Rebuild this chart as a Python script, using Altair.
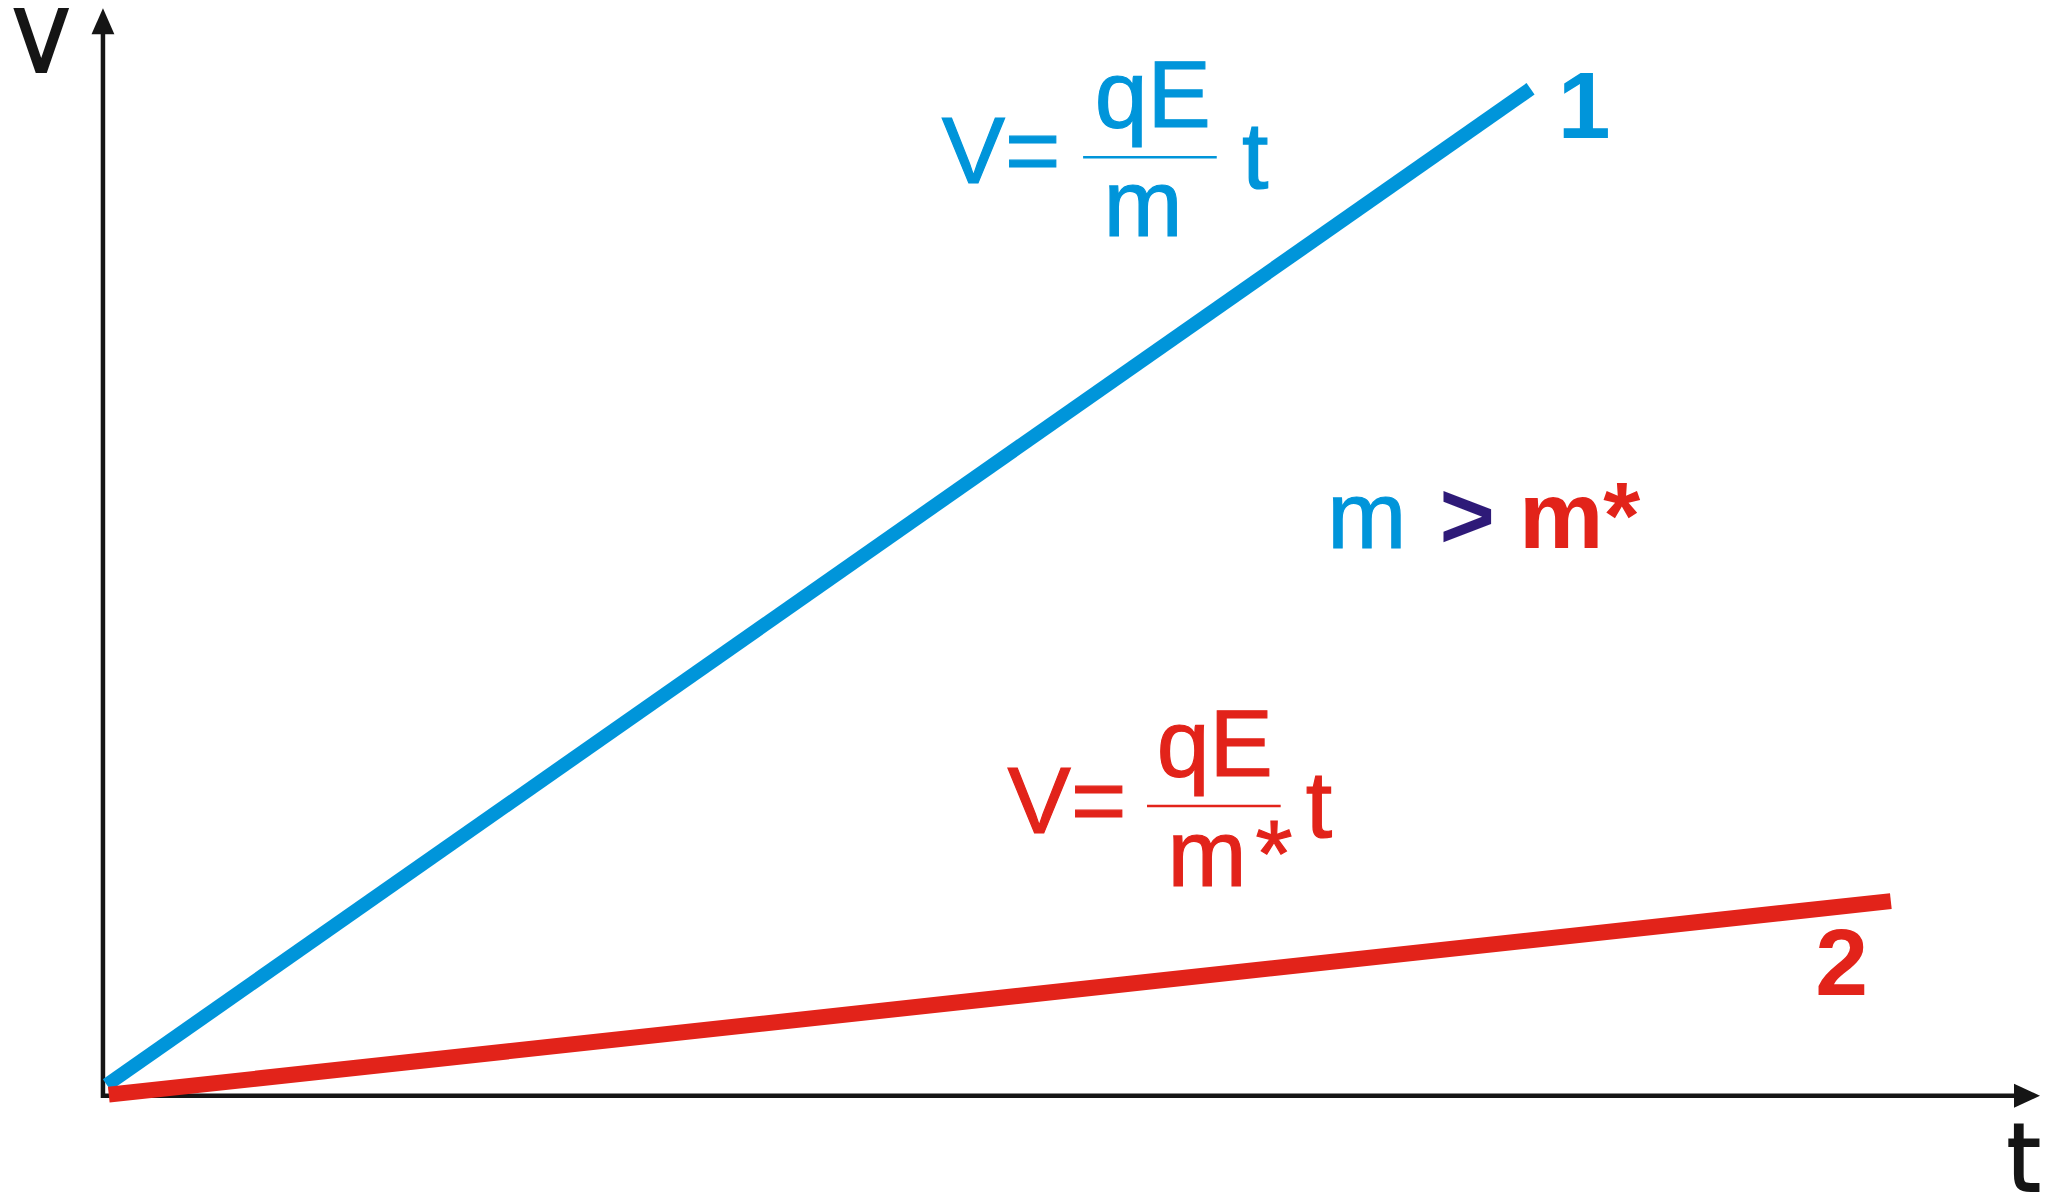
import altair as alt
import pandas as pd

# ---------------- data ----------------
# line 1 (blue, mass m) and line 2 (red, mass m*): V against t
line1_t = [0.2, 73.7]
line1_v = [1.0, 92.6]
line2_t = [0.3, 92.3]
line2_v = [0.1, 17.9]

# axis extents (arrow tips at 100)
xaxis_t = [0.0, 98.7]
xaxis_v = [0.0, 0.0]
yaxis_t = [0.0, 0.0]
yaxis_v = [-0.2, 97.8]

# fraction bars of the two formulas
frac_t1 = [50.6, 53.9]
frac_t2 = [57.5, 60.8]
frac_v = [86.3, 26.65]
frac_color = ["#0095DA", "#E2231A"]

# regular left-aligned texts
reg_text = ["V=", "t", "V=", "*", "t", "m"]
reg_t = [43.3, 58.8, 46.7, 59.5, 62.1, 63.2]
reg_v = [83.9, 83.5, 24.2, 19.3, 23.8, 50.4]
reg_color = ["#0095DA", "#0095DA", "#E2231A", "#E2231A", "#E2231A", "#0095DA"]

# regular centred texts (numerators / denominators)
cen_text = ["qE", "m", "qE", "m"]
cen_t = [54.2, 53.7, 57.4, 57.0]
cen_v = [89.1, 79.1, 29.4, 19.3]
cen_color = ["#0095DA", "#0095DA", "#E2231A", "#E2231A"]

# bold texts
bold_text = ["1", "2", ">", "m*"]
bold_t = [75.1, 88.4, 69.0, 73.1]
bold_v = [88.1, 9.3, 50.4, 50.4]
bold_color = ["#0095DA", "#E2231A", "#2E1A78", "#E2231A"]

# axis titles
axlab_text = ["V", "t"]
axlab_t = [-4.7, 98.3]
axlab_v = [94.1, -8.8]

FONT = "Liberation Sans, Arial, Helvetica, sans-serif"
NARROW = "Liberation Sans Narrow, Arial Narrow, DejaVu Sans Condensed, sans-serif"
BLACK = "#151515"

xs = alt.Scale(domain=[0, 100], nice=False, zero=False)
ys = alt.Scale(domain=[0, 100], nice=False, zero=False)


def X(f="t"):
    return alt.X(f"{f}:Q", scale=xs, axis=None)


def Y(f="v"):
    return alt.Y(f"{f}:Q", scale=ys, axis=None)


line1 = alt.Chart(pd.DataFrame({"t": line1_t, "v": line1_v})).mark_line(
    color="#0095DA", strokeWidth=14, strokeCap="butt"
).encode(x=X(), y=Y())

line2 = alt.Chart(pd.DataFrame({"t": line2_t, "v": line2_v})).mark_line(
    color="#E2231A", strokeWidth=16, strokeCap="butt"
).encode(x=X(), y=Y())

xaxis = alt.Chart(pd.DataFrame({"t": xaxis_t, "v": xaxis_v})).mark_line(
    color=BLACK, strokeWidth=4.5, strokeCap="butt"
).encode(x=X(), y=Y())

yaxis = alt.Chart(pd.DataFrame({"t": yaxis_t, "v": yaxis_v})).mark_line(
    color=BLACK, strokeWidth=4.5, strokeCap="butt"
).encode(x=X(), y=Y(), order="v:Q")

arrow_up = alt.Chart(pd.DataFrame({"t": [0.0], "v": [100.0]})).mark_point(
    shape="M0,0L0.88,2L-0.88,2Z", size=676, filled=True, color=BLACK, opacity=1
).encode(x=X(), y=Y())

arrow_right = alt.Chart(pd.DataFrame({"t": [100.0], "v": [0.0]})).mark_point(
    shape="M0,0L-2,-0.92L-2,0.92Z", size=676, filled=True, color=BLACK, opacity=1
).encode(x=X(), y=Y())

fracs = alt.Chart(
    pd.DataFrame({"t": frac_t1, "t2": frac_t2, "v": frac_v, "c": frac_color})
).mark_rule(strokeWidth=2.5).encode(
    x=X(), x2="t2:Q", y=Y(), color=alt.Color("c:N", scale=None)
)

reg = alt.Chart(
    pd.DataFrame({"s": reg_text, "t": reg_t, "v": reg_v, "c": reg_color})
).mark_text(
    font=FONT, fontSize=95, align="left", baseline="alphabetic", strokeWidth=1.2
).encode(
    x=X(), y=Y(), text="s:N",
    color=alt.Color("c:N", scale=None), stroke=alt.Stroke("c:N", scale=None)
)

cen = alt.Chart(
    pd.DataFrame({"s": cen_text, "t": cen_t, "v": cen_v, "c": cen_color})
).mark_text(
    font=FONT, fontSize=95, align="center", baseline="alphabetic", strokeWidth=1.2
).encode(
    x=X(), y=Y(), text="s:N",
    color=alt.Color("c:N", scale=None), stroke=alt.Stroke("c:N", scale=None)
)

bold = alt.Chart(
    pd.DataFrame({"s": bold_text, "t": bold_t, "v": bold_v, "c": bold_color})
).mark_text(
    font=FONT, fontSize=95, fontWeight="bold", align="left", baseline="alphabetic"
).encode(x=X(), y=Y(), text="s:N", color=alt.Color("c:N", scale=None))

axlab = alt.Chart(
    pd.DataFrame({"s": axlab_text, "t": axlab_t, "v": axlab_v})
).mark_text(
    font=NARROW, fontSize=95, align="left", baseline="alphabetic",
    color=BLACK, stroke=BLACK, strokeWidth=2
).encode(x=X(), y=Y(), text="s:N")

chart = alt.layer(
    xaxis, yaxis, arrow_up, arrow_right, line1, line2, fracs, reg, cen, bold, axlab
).properties(
    width=1938,
    height=1088,
    autosize=alt.AutoSizeParams(type="none"),
    padding={"left": 95, "top": 0, "right": 0, "bottom": 102},
    background="white",
).configure_view(stroke=None)

chart.save("out.html", embed_options={"renderer": "svg", "actions": False})
